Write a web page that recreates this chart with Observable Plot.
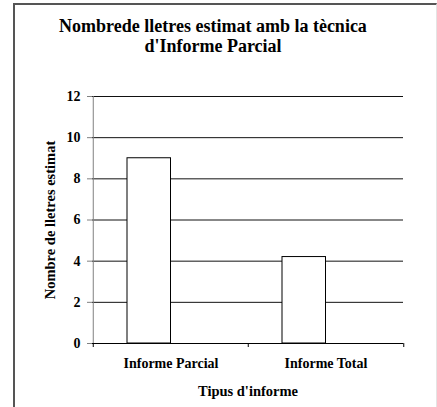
<!DOCTYPE html>
<html>
<head>
<meta charset="utf-8">
<script src="https://cdn.jsdelivr.net/npm/d3@7"></script>
<script src="https://cdn.jsdelivr.net/npm/@observablehq/plot@0.6"></script>
<style>
  html, body { margin: 0; padding: 0; background: #fff; }
  #wrap { position: relative; width: 437px; height: 407px; overflow: hidden; }
  #frame { position: absolute; left: 13px; top: 3px; width: 421px; height: 420px;
           border-left: 2px solid #555; border-top: 2px solid #555; border-right: 1px solid #e4e4e4; }
  #title { position: absolute; left: 14px; width: 398px; top: 16px; text-align: center;
           font-family: "Liberation Serif", serif; font-weight: bold;
           font-size: 18px; line-height: 20px; color: #000; white-space: nowrap; }
  #chart { position: absolute; left: 0; top: 0; }
  #chart svg text { font-family: "Liberation Serif", serif !important; font-weight: bold !important; fill: #000; }
</style>
</head>
<body>
<div id="wrap">
  <div id="frame"></div>
  <div id="title">Nombrede lletres estimat amb la tècnica<br>d'Informe Parcial</div>
  <div id="chart"></div>
</div>
<script>
const categories = ["Informe Parcial", "Informe Total"];
const values = [9, 4.2];
const yTicks = [0, 2, 4, 6, 8, 10, 12];
const gridTicks = [2, 4, 6, 8, 10, 12];
const yLabel = "Nombre de lletres estimat";
const xLabel = "Tipus d'informe";

const data = categories.map((c, i) => ({cat: c, value: values[i]}));

const W = 437, H = 407;
const mL = 92, mR = 34, mT = 96, mB = 64;
const bw = (W - mL - mR) / categories.length;

const chart = Plot.plot({
  width: W,
  height: H,
  marginLeft: mL,
  marginRight: mR,
  marginTop: mT,
  marginBottom: mB,
  style: {fontSize: "12px", color: "#000", background: "transparent"},
  x: {type: "band", domain: categories, padding: 0, label: null},
  y: {domain: [0, 12], label: null},
  marks: [
    Plot.gridY(gridTicks, {stroke: "#111", strokeOpacity: 1, strokeWidth: 1}),
    Plot.barY(data, {x: "cat", y: "value", fill: "#fff", stroke: "#000", strokeWidth: 1,
                     insetLeft: 34, insetRight: 77.5}),
    Plot.ruleY([0], {stroke: "#000"}),
    Plot.axisY(yTicks, {tickSize: 5, tickPadding: 7, stroke: "#808080", fontSize: 14,
                        label: null}),
    Plot.ruleX([0], {x: () => categories[0], dx: -bw / 2, stroke: "#808080", y1: 0, y2: 12}),
    Plot.axisX(categories, {tickSize: 4, text: null, dx: -bw / 2, stroke: "#000"}),
    Plot.axisX([categories[1]], {tickSize: 4, text: null, dx: bw / 2, stroke: "#000"}),
    Plot.axisX(categories, {tickSize: 0, tickPadding: 15, fontSize: 14, label: null,
                            style: {letterSpacing: "0.6px"}}),
    Plot.text([yLabel], {frameAnchor: "left", dx: -42.5, rotate: -90, fontSize: 14.5,
                         textAnchor: "middle", lineAnchor: "middle"}),
    Plot.text([xLabel], {frameAnchor: "bottom", dy: 52, fontSize: 14.5, lineAnchor: "bottom"})
  ]
});
document.getElementById("chart").appendChild(chart);
</script>
</body>
</html>
